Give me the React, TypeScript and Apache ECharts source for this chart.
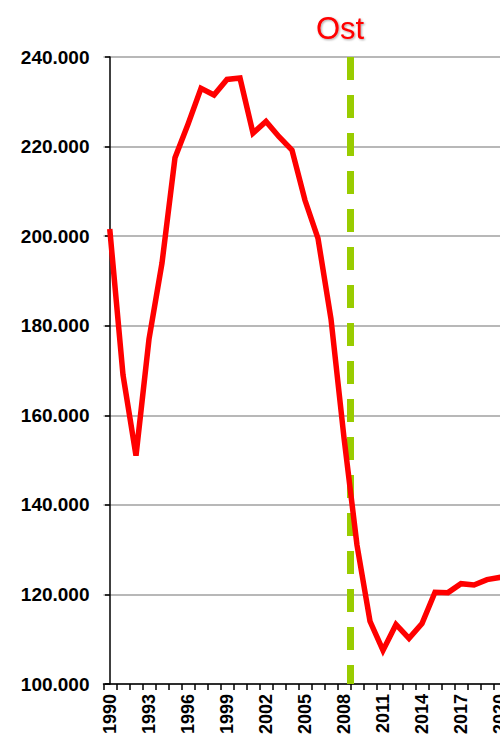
import React, { useEffect, useRef } from "react";
import * as echarts from "echarts";

const years: string[] = [
  "1990","1991","1992","1993","1994","1995","1996","1997","1998","1999",
  "2000","2001","2002","2003","2004","2005","2006","2007","2008","2009",
  "2010","2011","2012","2013","2014","2015","2016","2017","2018","2019",
  "2020","2021","2022",
];

const values: number[] = [
  201000, 169000, 151000, 177000, 194000, 217500, 225000, 233000, 231500, 235000,
  235300, 223000, 225600, 222200, 219200, 208000, 199500, 181500, 155000, 131000,
  114000, 107500, 113300, 110200, 113500, 120500, 120400, 122400, 122100, 123300,
  123800,
];

const yMin = 100000;
const yMax = 240000;
const yStep = 20000;
const markerAfterYear = "2008";
const titleText = "Ost";

function fmt(v: number): string {
  const s = String(Math.round(v / 1000));
  return s + ".000";
}

export default function App() {
  const ref = useRef<HTMLDivElement>(null);
  useEffect(() => {
    if (!ref.current) return;
    const chart = echarts.init(ref.current, null, { renderer: "svg" });
    const markerIdx = years.indexOf(markerAfterYear) + 0.5;
    const catW = 13;
    chart.setOption({
      animation: false,
      backgroundColor: "#ffffff",
      grid: { left: 103.5, top: 57, width: catW * years.length, height: 627, containLabel: false },
      graphic: [
        {
          type: "text",
          x: 340,
          y: 28,
          style: {
            text: titleText,
            fill: "#ff0000",
            font: "31px 'Liberation Sans', Arial, sans-serif",
            textAlign: "center",
            textVerticalAlign: "middle",
            textShadowColor: "rgba(0,0,0,0.35)",
            textShadowBlur: 2,
            textShadowOffsetX: 1,
            textShadowOffsetY: 1,
          },
        },
      ],
      xAxis: [
        {
          type: "category",
          data: years,
          boundaryGap: true,
          axisLine: { show: true, lineStyle: { color: "#000", width: 1.5 } },
          axisTick: { show: true, interval: 0, length: 6, alignWithLabel: false, lineStyle: { color: "#000", width: 1.5 } },
          axisLabel: {
            interval: 2,
            rotate: 90,
            margin: 10,
            color: "#000",
            fontWeight: "bold",
            fontSize: 18,
            fontFamily: "'Liberation Sans', Arial, sans-serif",
          },
          splitLine: { show: false },
        },
        {
          type: "value",
          min: -0.5,
          max: years.length - 0.5,
          show: false,
        },
      ],
      yAxis: {
        type: "value",
        min: yMin,
        max: yMax,
        interval: yStep,
        axisLine: { show: true, lineStyle: { color: "#000", width: 1.5 } },
        axisTick: { show: true, length: 5, lineStyle: { color: "#000", width: 1.5 } },
        axisLabel: {
          formatter: (v: number) => fmt(v),
          color: "#000",
          fontWeight: "bold",
          fontSize: 19,
          margin: 14,
          fontFamily: "'Liberation Sans', Arial, sans-serif",
        },
        splitLine: { show: true, lineStyle: { color: "#a0a0a0", width: 1.5 } },
      },
      series: [
        {
          type: "line",
          xAxisIndex: 1,
          data: [
            [markerIdx, yMax],
            [markerIdx, yMin],
          ],
          symbol: "none",
          silent: true,
          z: 2,
          lineStyle: { color: "#99cc00", width: 7, type: [23, 15] },
        },
        {
          type: "line",
          xAxisIndex: 0,
          data: values,
          symbol: "none",
          z: 3,
          lineStyle: { color: "#ff0000", width: 5.5, join: "miter", cap: "square" },
        },
      ],
    });
    return () => chart.dispose();
  }, []);
  return (
    <div style={{ position: "absolute", left: 0, top: 0, width: 500, height: 739, overflow: "hidden", background: "#fff" }}>
      <div ref={ref} style={{ width: 560, height: 739 }} />
    </div>
  );
}
